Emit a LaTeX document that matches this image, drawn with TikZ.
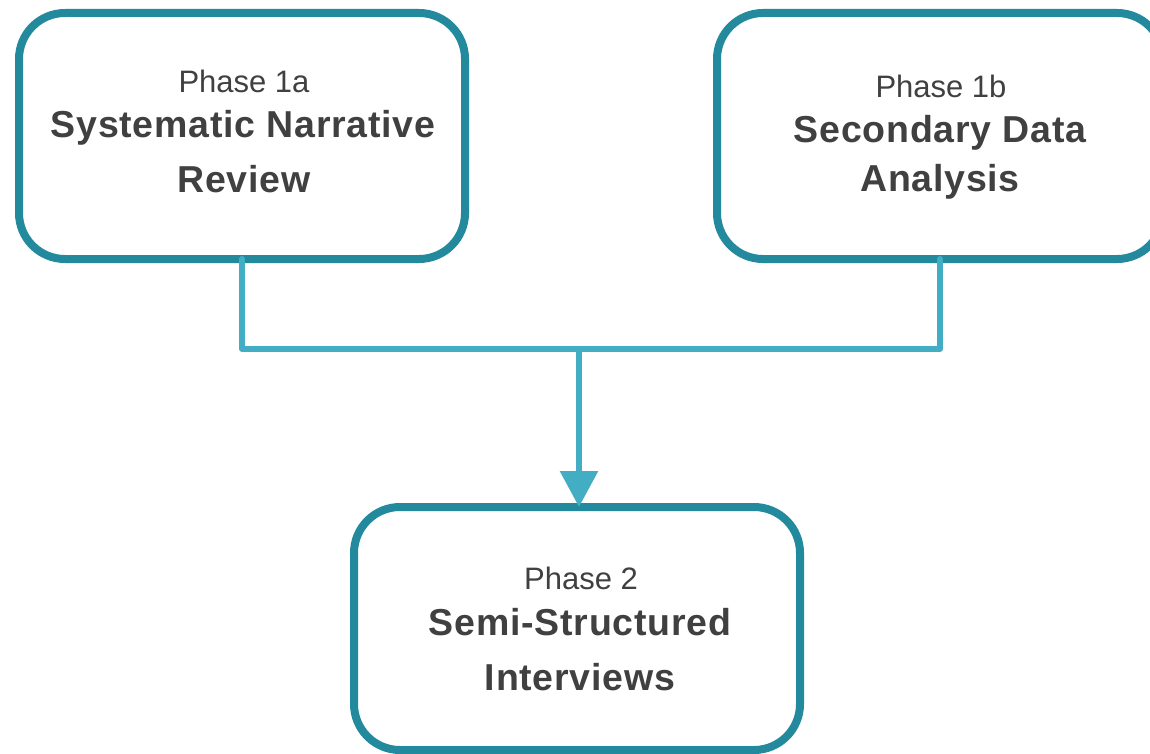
\documentclass[tikz,border=0pt]{standalone}
\usepackage{fontspec}
\setmainfont{Liberation Sans}
\usetikzlibrary{arrows.meta}
\definecolor{boxcol}{HTML}{23899D}
\definecolor{conncol}{HTML}{43ADC4}
\definecolor{txtcol}{HTML}{404040}
\newcommand{\phasefont}{\fontsize{31}{36}\selectfont}
\newcommand{\titlefont}{\fontsize{37.5}{44}\selectfont\bfseries\addfontfeatures{LetterSpace=2}}
\tikzset{
  phasebox/.style={draw=boxcol, line width=8pt, rounded corners=46pt, fill=white,
    minimum width=446pt, minimum height=246pt, outer sep=0pt, inner sep=0pt},
  phaselabel/.style={anchor=base, text=txtcol, inner sep=0pt, font=\phasefont},
  titlelabel/.style={anchor=base, text=txtcol, inner sep=0pt, font=\titlefont},
  conn/.style={draw=conncol, line width=6pt, line cap=round, line join=round},
}
\begin{document}
\begin{tikzpicture}[x=1pt,y=-1pt]
\useasboundingbox (0,0) rectangle (1150,754);
\begin{scope}
\clip (0,0) rectangle (1150,754);
\node[phasebox] (a) at (242,136) {};
\node[phasebox] (b) at (940,136) {};
\node[phasebox, minimum height=243pt] (c) at (577,628.5) {};
\coordinate (j) at (579,349);
\draw[conn] (a.south) |- (j);
\draw[conn] (b.south) |- (j);
\draw[conn, line cap=butt, -{Triangle[width=37pt,length=36pt]}] (j) -- (j |- c.north);
\end{scope}
\node[phaselabel] (a1) at (244,93) {Phase 1a};
\node[titlelabel] (a2) at (243,138) {Systematic Narrative};
\node[titlelabel] (a3) at (244,193) {Review};
\node[phaselabel] (b1) at (941,98) {Phase 1b};
\node[titlelabel] (b2) at (940,143) {Secondary Data};
\node[titlelabel] (b3) at (940,192) {Analysis};
\node[phaselabel] (c1) at (581,589) {Phase 2};
\node[titlelabel] (c2) at (580,635) {Semi-Structured};
\node[titlelabel] (c3) at (580,690) {Interviews};
\end{tikzpicture}
\end{document}
